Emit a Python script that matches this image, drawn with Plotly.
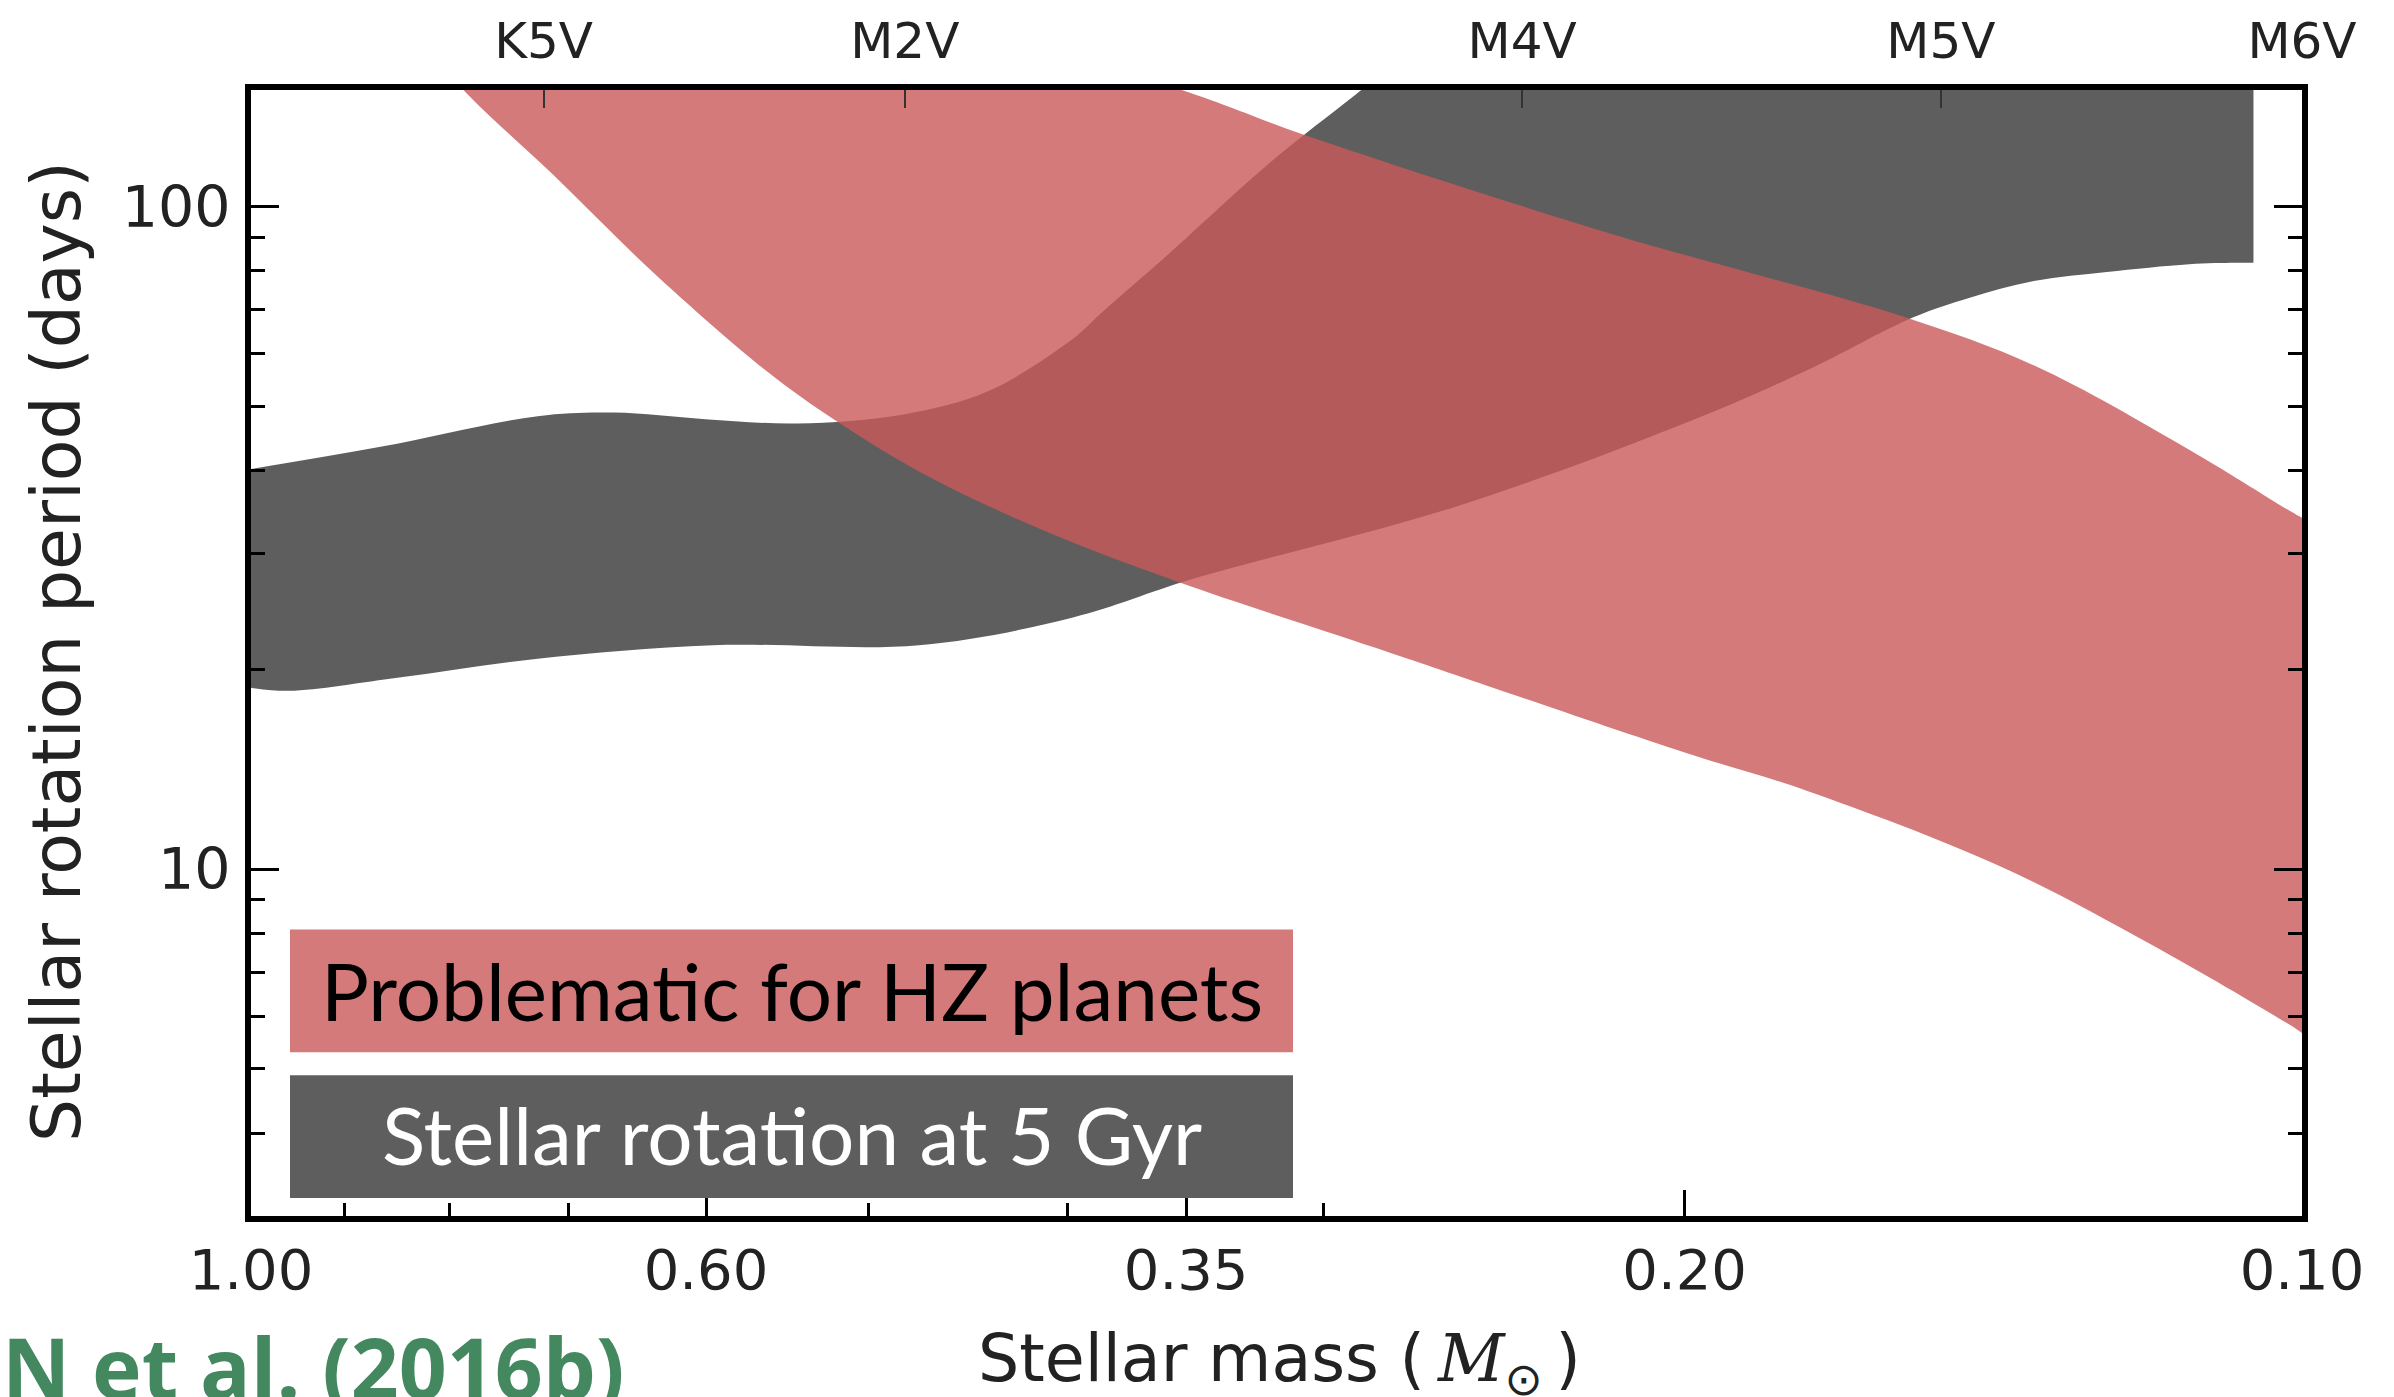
import math
import plotly.graph_objects as go

# ---------------------------------------------------------------
# Data (stellar mass in solar masses, rotation period in days)
# ---------------------------------------------------------------
# Rotation period envelope at 5 Gyr
gyr5_lower_mass = [1.0, 0.958, 0.845, 0.7248, 0.5954, 0.4724, 0.3974, 0.3466,
                   0.2591, 0.2011, 0.1744, 0.1547, 0.1452, 0.1349, 0.1245,
                   0.1135, 0.1078, 0.1056]
gyr5_lower_period = [18.8, 18.6, 19.5, 20.8, 21.8, 21.8, 24.0, 27.5,
                     35.2, 46.8, 56.6, 68.1, 72.9, 77.3, 79.7,
                     81.9, 82.3, 82.3]
gyr5_upper_mass = [1.0, 0.862, 0.7248, 0.6653, 0.6005, 0.5417, 0.4806, 0.4375,
                   0.3974, 0.3852, 0.3573, 0.318, 0.2894, 0.269, 0.22, 0.1056]
gyr5_upper_period = [40.2, 43.5, 48.3, 48.9, 47.8, 47.1, 48.6, 52.6,
                     63.2, 69.0, 84.6, 117.1, 147.6, 175.8, 250.0, 250.0]

# Region problematic for habitable-zone planets
hz_lower_mass = [0.857, 0.784, 0.7123, 0.637, 0.561, 0.519, 0.472, 0.412,
                 0.3525, 0.283, 0.248, 0.1998, 0.1744, 0.1408, 0.1187, 0.1007, 0.0995]
hz_lower_period = [200.0, 147.7, 111.7, 79.7, 56.6, 47.6, 39.8, 32.6,
                   27.1, 21.6, 18.8, 15.0, 13.15, 10.16, 7.73, 5.75, 5.6]
hz_upper_mass = [0.862, 0.666, 0.473, 0.3466, 0.3059, 0.2146, 0.19, 0.1561,
                 0.1349, 0.1135, 0.1003, 0.0995]
hz_upper_period = [340.0, 275.0, 200.0, 147.7, 128.1, 90.0, 81.0, 68.1,
                   57.5, 43.0, 34.1, 33.7]

# Axis ticks
mass_ticks = [1.0, 0.6, 0.35, 0.2, 0.1]
mass_tick_text = ["1.00", "0.60", "0.35", "0.20", "0.10"]
mass_minor_ticks = [0.9, 0.8, 0.7, 0.5, 0.4, 0.3]
period_ticks = [10, 100]
period_tick_text = ["10", "100"]
period_minor_ticks = [3, 4, 5, 6, 7, 8, 9, 20, 30, 40, 50, 60, 70, 80, 90]
sptype_mass = [0.72, 0.48, 0.24, 0.15, 0.10]
sptype_labels = ["K5V", "M2V", "M4V", "M5V", "M6V"]

legend_labels = ["Problematic for HZ planets", "Stellar rotation at 5 Gyr"]
credit_text = "N et al. (2016b)"

# ---------------------------------------------------------------
# Figure geometry (pixels)
# ---------------------------------------------------------------
FIG_W, FIG_H = 2394, 1397
M_L, M_R, M_T, M_B = 251, 92, 88, 181
PLOT_W = FIG_W - M_L - M_R
PLOT_H = FIG_H - M_T - M_B


def paper_x(px):
    return (px - M_L) / PLOT_W


def paper_y(py):
    return (FIG_H - M_B - py) / PLOT_H


RED = "rgba(202, 89, 89, 0.8)"
RED_SOLID = "#d57a7a"
GREY = "#5e5e5e"
TEXT_GREY = "#222222"
TICK_FONT = dict(family="DejaVu Sans", size=56, color=TEXT_GREY)
SMOOTH = 1.0

fig = go.Figure()

# 5 Gyr rotation band
fig.add_trace(go.Scatter(
    x=gyr5_lower_mass, y=gyr5_lower_period, mode="lines",
    line=dict(width=0, shape="spline", smoothing=SMOOTH),
    hoverinfo="skip", showlegend=False))
fig.add_trace(go.Scatter(
    x=gyr5_upper_mass, y=gyr5_upper_period, mode="lines",
    line=dict(width=0, shape="spline", smoothing=SMOOTH),
    fill="tonexty", fillcolor=GREY,
    hoverinfo="skip", showlegend=False))

# Problematic region for HZ planets (translucent, drawn on top)
fig.add_trace(go.Scatter(
    x=hz_lower_mass, y=hz_lower_period, mode="lines",
    line=dict(width=0, shape="spline", smoothing=SMOOTH),
    hoverinfo="skip", showlegend=False))
fig.add_trace(go.Scatter(
    x=hz_upper_mass, y=hz_upper_period, mode="lines",
    line=dict(width=0, shape="spline", smoothing=SMOOTH),
    fill="tonexty", fillcolor=RED,
    hoverinfo="skip", showlegend=False))

# anchor trace for the spectral-type axis on top
fig.add_trace(go.Scatter(
    x=[0.5], y=[10], xaxis="x2", mode="markers",
    marker=dict(opacity=0), hoverinfo="skip", showlegend=False))

log_x_range = [math.log10(1.0), math.log10(0.1)]

fig.update_layout(
    width=FIG_W, height=FIG_H,
    margin=dict(l=M_L, r=M_R, t=M_T, b=M_B),
    plot_bgcolor="white", paper_bgcolor="white",
    showlegend=False,
    xaxis=dict(
        type="log", range=log_x_range,
        tickmode="array", tickvals=mass_ticks, ticktext=mass_tick_text,
        ticks="inside", ticklen=26, tickwidth=3, tickcolor="black",
        showline=True, linewidth=6, linecolor="black", mirror=True,
        showgrid=False, zeroline=False, tickfont=TICK_FONT,
        ticklabelstandoff=0,
        minor=dict(tickmode="array", tickvals=mass_minor_ticks,
                   ticks="inside", ticklen=13, tickwidth=3,
                   tickcolor="black", showgrid=False),
    ),
    xaxis2=dict(
        type="log", range=log_x_range, overlaying="x", side="top",
        tickmode="array", tickvals=sptype_mass, ticktext=sptype_labels,
        ticks="inside", ticklen=18, tickwidth=2, tickcolor="#333333",
        showline=False, showgrid=False, zeroline=False,
        tickfont=dict(family="DejaVu Sans", size=50, color=TEXT_GREY),
        ticklabelstandoff=21,
    ),
    yaxis=dict(
        type="log", range=[math.log10(3), math.log10(150)],
        tickmode="array", tickvals=period_ticks, ticktext=period_tick_text,
        ticks="inside", ticklen=28, tickwidth=3, tickcolor="black",
        showline=True, linewidth=6, linecolor="black", mirror="ticks",
        showgrid=False, zeroline=False,
        tickfont=dict(family="DejaVu Sans", size=57, color=TEXT_GREY),
        ticklabelstandoff=3,
        minor=dict(tickmode="array", tickvals=period_minor_ticks,
                   ticks="inside", ticklen=14, tickwidth=3,
                   tickcolor="black", showgrid=False),
    ),
)

# Legend boxes
box_x0, box_x1 = 290, 1293
boxes = [(929, 1052, RED_SOLID, "black", -1), (1075, 1198, GREY, "white", -3)]
for (y0, y1, color, txt_color, dy), label in zip(boxes, legend_labels):
    fig.add_shape(type="rect", xref="paper", yref="paper",
                  x0=paper_x(box_x0), x1=paper_x(box_x1),
                  y0=paper_y(y1), y1=paper_y(y0),
                  fillcolor=color, line=dict(width=0), layer="above")
    fig.add_annotation(xref="paper", yref="paper",
                       x=paper_x((box_x0 + box_x1) / 2), y=paper_y((y0 + y1) / 2 + dy),
                       text=label, showarrow=False,
                       xanchor="center", yanchor="middle",
                       font=dict(family="Lato", size=80, color=txt_color))

# Axis titles
fig.add_annotation(xref="paper", yref="paper",
                   x=paper_x(56), y=paper_y(651),
                   text="Stellar rotation period (days)", textangle=-90,
                   showarrow=False, xanchor="center", yanchor="middle",
                   font=dict(family="DejaVu Sans", size=68, color=TEXT_GREY))
fig.add_annotation(xref="paper", yref="paper",
                   x=paper_x(1279), y=paper_y(1364),
                   text="Stellar mass (\u2009<span style='font-family:DejaVu Serif'><i>M</i></span>"
                        "<sub>⊙</sub>\u2009)",
                   showarrow=False, xanchor="center", yanchor="middle",
                   font=dict(family="DejaVu Sans", size=65, color=TEXT_GREY))

# Credit line, bottom left
fig.add_annotation(xref="paper", yref="paper",
                   x=paper_x(0), y=paper_y(1367),
                   text="<b>" + credit_text + "</b>",
                   showarrow=False, xanchor="left", yanchor="middle",
                   font=dict(family="Open Sans", size=84, color="#43885f"))

fig.write_html("out.html")
